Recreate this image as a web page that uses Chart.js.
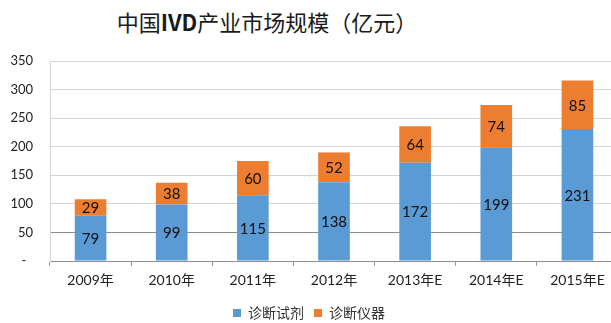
<!DOCTYPE html>
<html lang="zh">
<head>
    <meta charset="UTF-8">
    <title>中国IVD产业市场规模</title>
    <script src="https://cdn.jsdelivr.net/npm/chart.js"></script>
    <style>
        html, body {
            margin: 0;
            padding: 0;
            width: 611px;
            height: 323px;
            overflow: hidden;
            background: #ffffff;
        }
        .wrap {
            position: relative;
            width: 611px;
            height: 323px;
        }
        .chart-title {
            position: absolute;
            top: 6px;
            left: 267px;
            transform: translateX(-50%);
            white-space: nowrap;
            font-family: "Noto Sans CJK SC", sans-serif;
            font-size: 22px;
            line-height: 30px;
            color: #1a1a1a;
        }
        .chart-box {
            position: absolute;
            left: 0;
            top: 0;
            width: 620px;
            height: 330px;
        }
    </style>
</head>
<body>
    <div class="wrap">
        <div class="chart-title">中国<b>IVD</b>产业市场规模（亿元）</div>
        <div class="chart-box">
            <canvas id="ivdChart" width="620" height="330"></canvas>
        </div>
    </div>
    <script>
        const years = ["2009年", "2010年", "2011年", "2012年", "2013年E", "2014年E", "2015年E"];
        const reagents = [79, 99, 115, 138, 172, 199, 231];
        const instruments = [29, 38, 60, 52, 64, 74, 85];
        const seriesNames = ["诊断试剂", "诊断仪器"];
        const yTicks = [0, 50, 100, 150, 200, 250, 300, 350];

        const fontStack = "Lato, 'Noto Sans CJK SC', sans-serif";

        // write each segment's value in the middle of its bar piece
        const segmentLabels = {
            id: "segmentLabels",
            afterDatasetsDraw(chart) {
                const ctx = chart.ctx;
                ctx.save();
                ctx.fillStyle = "#111111";
                ctx.font = "15px " + fontStack;
                ctx.textAlign = "center";
                ctx.textBaseline = "middle";
                chart.data.datasets.forEach((ds, i) => {
                    chart.getDatasetMeta(i).data.forEach((bar, j) => {
                        const mid = (bar.y + bar.base) / 2;
                        ctx.fillText(String(ds.data[j]), bar.x, mid + 1);
                    });
                });
                ctx.restore();
            }
        };

        new Chart(document.getElementById("ivdChart"), {
            type: "bar",
            data: {
                labels: years,
                datasets: [
                    { label: seriesNames[0], data: reagents, backgroundColor: "#5b9bd5" },
                    { label: seriesNames[1], data: instruments, backgroundColor: "#ed7d31" }
                ]
            },
            options: {
                responsive: false,
                animation: false,
                events: [],
                layout: { padding: { top: 61, right: 2, left: 0, bottom: 0 } },
                datasets: {
                    bar: { barPercentage: 0.39, categoryPercentage: 1 }
                },
                plugins: {
                    legend: {
                        position: "bottom",
                        labels: {
                            boxWidth: 8,
                            boxHeight: 8,
                            padding: 10,
                            color: "#333333",
                            font: { size: 14, family: fontStack }
                        }
                    },
                    tooltip: { enabled: false }
                },
                scales: {
                    x: {
                        stacked: true,
                        afterFit: (s) => { s.height = 35; },
                        border: { color: "#8c8c8c" },
                        grid: {
                            offset: true,
                            drawOnChartArea: false,
                            drawTicks: true,
                            tickLength: 5,
                            color: "#9a9a9a"
                        },
                        ticks: {
                            padding: 6,
                            color: "#222222",
                            font: { size: 14, family: fontStack },
                            maxRotation: 0
                        }
                    },
                    y: {
                        stacked: true,
                        min: 0,
                        max: 350,
                        afterFit: (s) => { s.width = 50; },
                        afterBuildTicks: (s) => { s.ticks = yTicks.map(v => ({ value: v })); },
                        border: { color: "#d4d4d4" },
                        grid: {
                            drawTicks: false,
                            color: (c) => c.tick && c.tick.value === 50 ? "#8c8c8c" : "#d4d4d4"
                        },
                        ticks: {
                            padding: 17,
                            color: "#222222",
                            font: { size: 13, family: fontStack },
                            callback: (v) => v === 0 ? "-  " : v
                        }
                    }
                }
            },
            plugins: [segmentLabels]
        });
    </script>
</body>
</html>
